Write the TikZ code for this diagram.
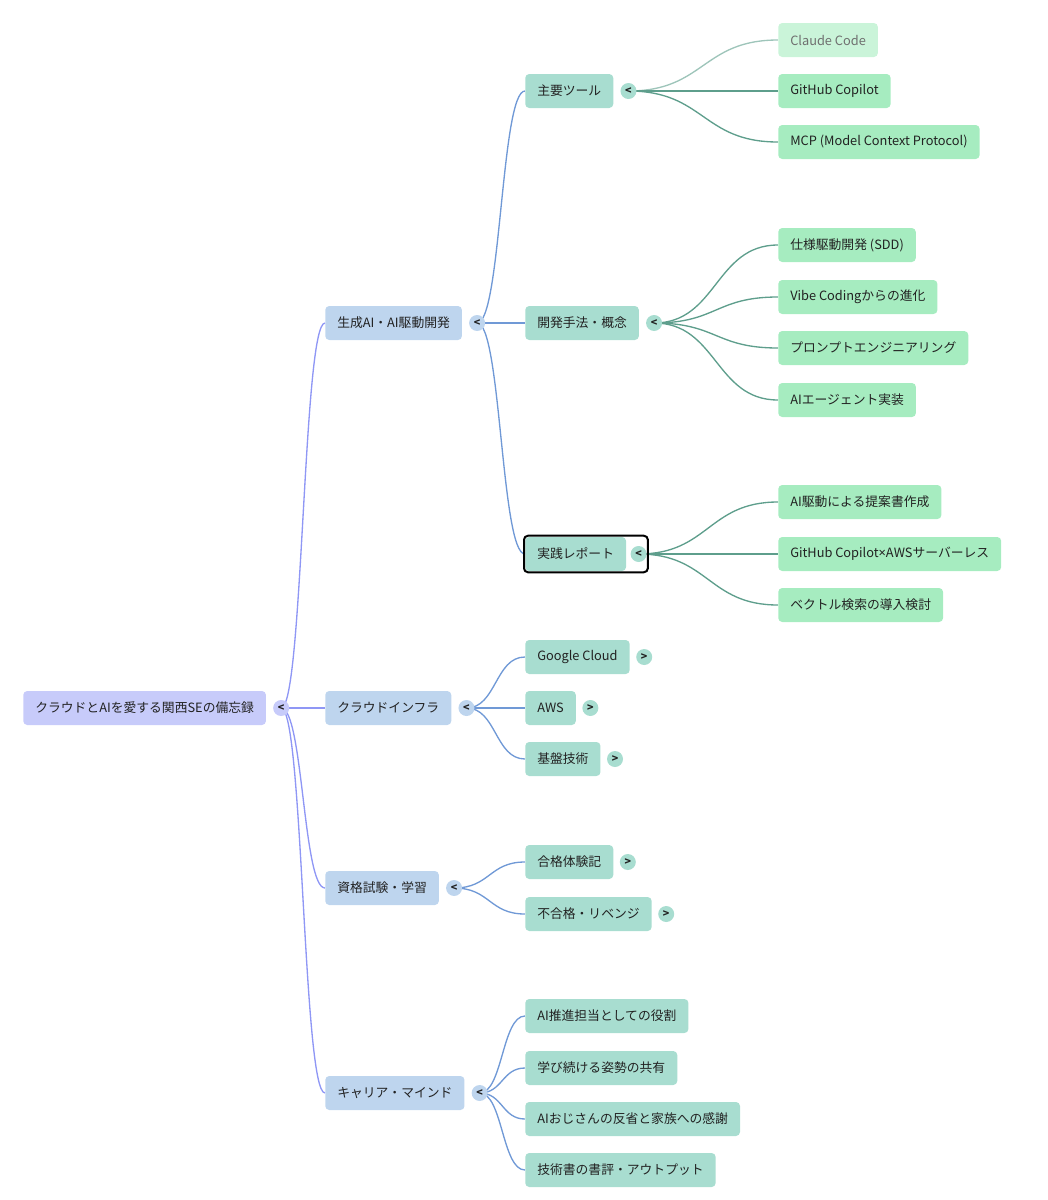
\documentclass[tikz,border=0pt]{standalone}
\usepackage{fontspec}
\setmainfont{Noto Sans CJK JP}
\newfontfamily\latinfont{Noto Sans}
\usetikzlibrary{positioning}
\pgfdeclarelayer{bg}
\pgfsetlayers{bg,main}

\definecolor{ink}{HTML}{222222}
\definecolor{rootfill}{HTML}{C7CBFA}
\definecolor{bluefill}{HTML}{BED5EE}
\definecolor{tealfill}{HTML}{A8DDD0}
\definecolor{greenfill}{HTML}{A6ECC0}
\definecolor{rootline}{HTML}{8F97F5}
\definecolor{blueline}{HTML}{7099D6}
\definecolor{tealline}{HTML}{5E9E8C}

\tikzset{
  topic/.style={anchor=west, rounded corners=3pt, minimum height=25.5pt,
    inner xsep=9pt, text=ink, font=\fontsize{9.6}{12}\selectfont},
  root/.style={topic, fill=rootfill},
  lvone/.style={topic, fill=bluefill},
  lvtwo/.style={topic, fill=tealfill},
  lvthree/.style={topic, fill=greenfill},
  faded/.style={topic, fill=greenfill!60, text=ink!65},
  toggle/.style={circle, inner sep=0pt, minimum size=12pt, text=ink,
    font=\fontsize{8}{8}\bfseries\selectfont},
  branch/.style={to path={.. controls +(#1,0) and +(-#1,0) .. (\tikztotarget)}},
  branch/.default=22,
  picked/.style={draw=black, line width=1.5pt, rounded corners=3pt}
}

\begin{document}
\begin{tikzpicture}[x=0.75pt, y=-0.75pt]
    \useasboundingbox (0,0) rectangle (1048,1200);

    % root
    \node [root] (root) at (23,708) {クラウドとAIを愛する関西SEの備忘録};
    \node [toggle, fill=rootfill, right=5pt of root] (root-t) {<};

    % first level
    \node [lvone] (gen) at (325,323) {生成AI・AI駆動開発};
    \node [lvone] (cloud) at (325,708) {クラウドインフラ};
    \node [lvone] (cert) at (325,888) {資格試験・学習};
    \node [lvone] (career) at (325,1093) {キャリア・マインド};
    \foreach \n in {gen,cloud,cert,career}
        \node [toggle, fill=bluefill, right=5pt of \n] (\n-t) {<};

    % second level
    \node [lvtwo] (tools) at (525,91) {主要ツール};
    \node [lvtwo] (method) at (525,323) {開発手法・概念};
    \node [lvtwo] (report) at (525,554) {実践レポート};
    \node [lvtwo] (gcp) at (525,657) {Google Cloud};
    \node [lvtwo] (aws) at (525,708) {AWS};
    \node [lvtwo] (infra) at (525,759) {基盤技術};
    \node [lvtwo] (pass) at (525,862) {合格体験記};
    \node [lvtwo] (fail) at (525,914) {不合格・リベンジ};
    \node [lvtwo] (role) at (525,1016) {AI推進担当としての役割};
    \node [lvtwo] (learn) at (525,1068) {学び続ける姿勢の共有};
    \node [lvtwo] (family) at (525,1119) {AIおじさんの反省と家族への感謝};
    \node [lvtwo] (books) at (525,1170) {技術書の書評・アウトプット};
    \foreach \n in {tools,method}
        \node [toggle, fill=tealfill, right=5pt of \n] (\n-t) {<};
    \node [toggle, fill=tealfill, right=3pt of report] (report-t) {<};
    \foreach \n in {gcp,aws,infra,pass,fail}
        \node [toggle, fill=tealfill, right=4.5pt of \n] (\n-t) {>};

    % selection frame
    \coordinate (selA) at ([xshift=-0.75pt,yshift=0.75pt]report.north west);
    \coordinate (selB) at (report.south -| report-t.east);
    \draw [picked] (selA) rectangle ([xshift=0.75pt,yshift=-0.75pt]selB);

    % third level
    \node [faded] (claude) at (778,40) {Claude Code};
    \node [lvthree] (copilot) at (778,91) {GitHub Copilot};
    \node [lvthree] (mcp) at (778,142) {MCP (Model Context Protocol)};
    \node [lvthree] (sdd) at (778,245) {仕様駆動開発 (SDD)};
    \node [lvthree] (vibe) at (778,297) {Vibe Codingからの進化};
    \node [lvthree] (prompt) at (778,348) {プロンプトエンジニアリング};
    \node [lvthree] (agent) at (778,400) {AIエージェント実装};
    \node [lvthree] (proposal) at (778,502) {AI駆動による提案書作成};
    \node [lvthree] (serverless) at (778,554) {GitHub Copilot{\latinfont ×}AWSサーバーレス};
    \node [lvthree] (vector) at (778,605) {ベクトル検索の導入検討};

    \begin{pgfonlayer}{bg}    % connectors behind the boxes
        \foreach \n in {gen,cloud,cert,career}
            \draw [rootline, line width=1pt] (root-t.center) to[branch=22] (\n.west);
        \foreach \n in {tools,method,report}
            \draw [blueline, line width=1pt] (gen-t.center) to[branch=24] (\n.west);
        \foreach \n in {gcp,aws,infra}
            \draw [blueline, line width=1pt] (cloud-t.center) to[branch=30] (\n.west);
        \foreach \n in {pass,fail}
            \draw [blueline, line width=1pt] (cert-t.center) to[branch=36] (\n.west);
        \foreach \n in {role,learn,family,books}
            \draw [blueline, line width=1pt] (career-t.center) to[branch=23] (\n.west);
        \draw [tealline!60, line width=1pt] (tools-t.center) to[branch=76] (claude.west);
        \foreach \n in {copilot,mcp}
            \draw [tealline, line width=1pt] (tools-t.center) to[branch=76] (\n.west);
        \foreach \n in {sdd,vibe,prompt,agent}
            \draw [tealline, line width=1pt] (method-t.center) to[branch=63] (\n.west);
        \foreach \n in {proposal,serverless,vector}
            \draw [tealline, line width=1pt] (report-t.center) to[branch=70] (\n.west);
    \end{pgfonlayer}
\end{tikzpicture}
\end{document}
